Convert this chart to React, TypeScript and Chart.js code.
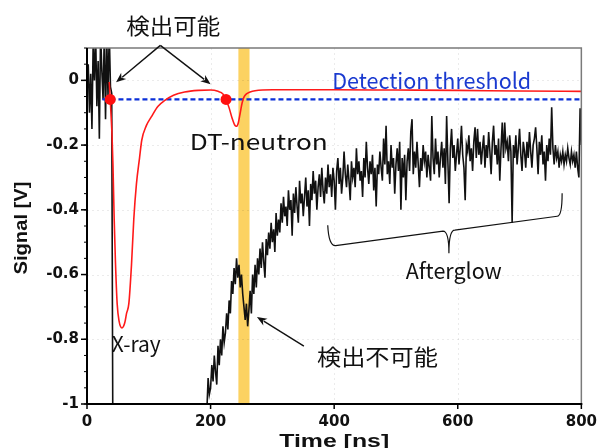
import { useEffect, useRef } from "react";
import { Chart, registerables } from "chart.js";

Chart.register(...registerables);

// Axes
const timeTicks = [0, 200, 400, 600, 800];
const signalTicks = [0, -0.2, -0.4, -0.6, -0.8, -1];
const signalMinorStep = 0.05;
const timeRange = [0, 800];
const signalRange = [-1, 0.1];

// Measured detector output (V), sampled every 2 ns
const sampleStep = 2;
const earlyStart = 0;
const earlySignal = [
  -0.02, 0.05, -0.1, 0.02, -0.15, 0.12, 0.0, 0.14, -0.08, 0.06, -0.18,
  0.15, 0.03, -0.06, 0.14, -0.12, 0.13, -0.05, 0.15, -0.02, -0.04, -1.2,
];
const lateStart = 192;
const lateSignal = [
  -1.15, -1.02, -0.92, -0.97, -0.95, -0.88, -0.93, -0.85, -0.9, -0.94, -0.82, -0.88, -0.8, -0.85, -0.76, -0.81, -0.78, -0.72, -0.77, -0.68,
  -0.72, -0.62, -0.66, -0.58, -0.63, -0.55, -0.61, -0.57, -0.64, -0.6, -0.66, -0.7, -0.74, -0.69, -0.76, -0.71, -0.65, -0.72, -0.6, -0.66,
  -0.57, -0.64, -0.55, -0.6, -0.52, -0.58, -0.5, -0.56, -0.61, -0.49, -0.54, -0.47, -0.52, -0.44, -0.5, -0.46, -0.53, -0.41, -0.48, -0.43,
  -0.47, -0.38, -0.44, -0.36, -0.42, -0.39, -0.45, -0.34, -0.4, -0.37, -0.48, -0.35, -0.41, -0.33, -0.39, -0.44, -0.31, -0.38, -0.35, -0.42,
  -0.36, -0.3, -0.39, -0.34, -0.45, -0.32, -0.37, -0.28, -0.35, -0.31, -0.4, -0.33, -0.29, -0.36, -0.27, -0.34, -0.38, -0.3, -0.35, -0.26,
  -0.33, -0.29, -0.36, -0.27, -0.31, -0.4, -0.28, -0.24, -0.32, -0.27, -0.35, -0.3, -0.22, -0.29, -0.33, -0.26, -0.31, -0.37, -0.25, -0.3,
  -0.27, -0.33, -0.21, -0.29, -0.25, -0.31, -0.28, -0.36, -0.24, -0.3, -0.19, -0.27, -0.32, -0.25, -0.29, -0.23, -0.34, -0.27, -0.39, -0.26,
  -0.29, -0.22, -0.27, -0.31, -0.18, -0.26, -0.14, -0.29, -0.25, -0.32, -0.2, -0.27, -0.24, -0.35, -0.26, -0.21, -0.28, -0.19, -0.4, -0.24,
  -0.3, -0.23, -0.37, -0.25, -0.21, -0.28, -0.16, -0.12, -0.29, -0.22, -0.27, -0.19, -0.26, -0.33, -0.24, -0.28, -0.2, -0.25, -0.22, -0.3,
  -0.23, -0.27, -0.31, -0.11, -0.24, -0.29, -0.18, -0.26, -0.22, -0.3, -0.24, -0.19, -0.27, -0.21, -0.32, -0.11, -0.25, -0.38, -0.21, -0.15,
  -0.24, -0.2, -0.28, -0.23, -0.18, -0.26, -0.21, -0.14, -0.23, -0.27, -0.37, -0.2, -0.22, -0.17, -0.25, -0.21, -0.28, -0.19, -0.145, -0.24,
  -0.15, -0.23, -0.19, -0.26, -0.21, -0.17, -0.27, -0.2, -0.24, -0.16, -0.22, -0.29, -0.19, -0.14, -0.23, -0.2, -0.26, -0.18, -0.31, -0.21,
  -0.13, -0.24, -0.13, -0.21, -0.19, -0.25, -0.17, -0.22, -0.44, -0.2, -0.24, -0.17, -0.26, -0.21, -0.15, -0.23, -0.28, -0.19, -0.22, -0.27,
  -0.19, -0.24, -0.16, -0.22, -0.27, -0.2, -0.18, -0.145, -0.21, -0.29, -0.19, -0.23, -0.17, -0.26, -0.22, -0.31, -0.2, -0.25, -0.18, -0.23,
  -0.083, -0.21, -0.26, -0.2, -0.24, -0.22, -0.27, -0.23, -0.25, -0.22, -0.26, -0.23, -0.25, -0.21, -0.24, -0.26, -0.22, -0.25, -0.23, -0.27,
  -0.22, -0.27, -0.3, -0.086, -0.2,
];

// Expected detector response (X-ray peak and DT-neutron peak)
const responseTime = [
  36, 37.6, 39, 40.5, 42, 44, 46, 48.8, 52, 56.6, 61, 64, 67.7, 72, 75.7, 80, 85, 88.6, 96, 104,
  115, 126, 140, 158, 180, 200, 212, 220, 225, 230, 235, 239, 242, 245, 248, 251, 254, 258, 264,
  272, 300, 400, 500, 600, 700, 800,
];
const responseSignal = [
  -0.005, -0.059, -0.11, -0.17, -0.26, -0.43, -0.56, -0.69, -0.745, -0.765, -0.75, -0.72, -0.69,
  -0.57, -0.43, -0.32, -0.24, -0.185, -0.14, -0.113, -0.08, -0.062, -0.046, -0.036, -0.031, -0.03,
  -0.034, -0.042, -0.059, -0.085, -0.118, -0.138, -0.142, -0.13, -0.1, -0.07, -0.052, -0.042,
  -0.036, -0.032, -0.029, -0.029, -0.03, -0.031, -0.033, -0.034,
];

const thresholdLevel = -0.059;
const thresholdSpan = [25, 800];
const crossingTimes = [37.6, 225];
const neutronWindow = [245, 263];

// Curly brace under the afterglow region, in (ns, V)
const braceLeft = [[389.6, -0.4475], [391.2, -0.5123], [402.4, -0.5108], [576.1, -0.466], [585.7, -0.466], [585.7, -0.534]];
const braceRight = [[585.7, -0.534], [585.7, -0.463], [595.2, -0.463], [760.9, -0.4198], [768.9, -0.4198], [768.9, -0.3488]];

const signalPoints: { x: number; y: number | null }[] = [
  ...earlySignal.map((v, i) => ({ x: earlyStart + i * sampleStep, y: v })),
  { x: 100, y: null },
  ...lateSignal.map((v, i) => ({ x: lateStart + i * sampleStep, y: v })),
];
const responsePoints = responseTime.map((t, i) => ({ x: t, y: responseSignal[i] }));
const thresholdPoints = thresholdSpan.map((t) => ({ x: t, y: thresholdLevel }));
const crossingPoints = crossingTimes.map((t) => ({ x: t, y: thresholdLevel }));

function fitText(
  ctx: CanvasRenderingContext2D,
  text: string,
  x: number,
  y: number,
  font: string,
  color: string,
  width: number,
  baseline: CanvasTextBaseline = "alphabetic",
  angle = 0
) {
  ctx.save();
  ctx.font = font;
  ctx.fillStyle = color;
  ctx.textAlign = "center";
  ctx.textBaseline = baseline;
  const w = ctx.measureText(text).width;
  ctx.translate(x, y);
  if (angle) ctx.rotate(angle);
  ctx.scale(width / w, 1);
  ctx.fillText(text, 0, 0);
  ctx.restore();
}

function arrow(ctx: CanvasRenderingContext2D, x0: number, y0: number, x1: number, y1: number) {
  const a = Math.atan2(y1 - y0, x1 - x0);
  const len = 10;
  const hw = 4;
  ctx.save();
  ctx.strokeStyle = "#111";
  ctx.fillStyle = "#111";
  ctx.lineWidth = 1.4;
  ctx.beginPath();
  ctx.moveTo(x0, y0);
  ctx.lineTo(x1 - Math.cos(a) * len * 0.8, y1 - Math.sin(a) * len * 0.8);
  ctx.stroke();
  ctx.beginPath();
  ctx.moveTo(x1, y1);
  ctx.lineTo(x1 - Math.cos(a) * len + Math.sin(a) * hw, y1 - Math.sin(a) * len - Math.cos(a) * hw);
  ctx.lineTo(x1 - Math.cos(a) * len * 0.7, y1 - Math.sin(a) * len * 0.7);
  ctx.lineTo(x1 - Math.cos(a) * len - Math.sin(a) * hw, y1 - Math.sin(a) * len + Math.cos(a) * hw);
  ctx.closePath();
  ctx.fill();
  ctx.restore();
}

const framePlugin = {
  id: "frame",
  beforeDatasetsDraw(chart: Chart) {
    const { ctx, chartArea: a } = chart;
    const xs = chart.scales.x;
    const ys = chart.scales.y;
    ctx.save();
    // neutron arrival window
    ctx.fillStyle = "rgb(252, 210, 98)";
    const b0 = xs.getPixelForValue(neutronWindow[0]);
    const b1 = xs.getPixelForValue(neutronWindow[1]);
    ctx.fillRect(b0, a.top, b1 - b0, a.bottom - a.top);
    // faint dotted grid
    ctx.strokeStyle = "rgba(0,0,0,0.08)";
    ctx.lineWidth = 1;
    ctx.setLineDash([2, 3]);
    timeTicks.forEach((t) => {
      if (t === timeRange[0] || t === timeRange[1]) return;
      const x = Math.round(xs.getPixelForValue(t)) + 0.5;
      ctx.beginPath();
      ctx.moveTo(x, a.top);
      ctx.lineTo(x, a.bottom);
      ctx.stroke();
    });
    signalTicks.forEach((v) => {
      if (v === signalRange[0]) return;
      const y = Math.round(ys.getPixelForValue(v)) + 0.5;
      ctx.beginPath();
      ctx.moveTo(a.left, y);
      ctx.lineTo(a.right, y);
      ctx.stroke();
    });
    ctx.restore();
  },
  afterDatasetsDraw(chart: Chart) {
    const { ctx, chartArea: a } = chart;
    const xs = chart.scales.x;
    const ys = chart.scales.y;
    const px = (t: number) => xs.getPixelForValue(t);
    const py = (v: number) => ys.getPixelForValue(v);
    ctx.save();
    // top and right frame
    ctx.strokeStyle = "#7a7a7a";
    ctx.lineWidth = 1.5;
    ctx.beginPath();
    ctx.moveTo(a.left, a.top);
    ctx.lineTo(a.right, a.top);
    ctx.lineTo(a.right, a.bottom);
    ctx.stroke();
    // axes
    ctx.strokeStyle = "#000";
    ctx.lineWidth = 2;
    ctx.beginPath();
    ctx.moveTo(a.left, a.top);
    ctx.lineTo(a.left, a.bottom);
    ctx.lineTo(a.right + 1, a.bottom);
    ctx.stroke();
    // ticks
    ctx.lineWidth = 1.5;
    signalTicks.forEach((v) => {
      const y = py(v);
      ctx.beginPath();
      ctx.moveTo(a.left - 6, y);
      ctx.lineTo(a.left, y);
      ctx.stroke();
    });
    ctx.lineWidth = 1;
    for (let k = 0; signalRange[1] - k * signalMinorStep >= signalRange[0] - 1e-9; k++) {
      const v = signalRange[1] - k * signalMinorStep;
      const y = py(v);
      ctx.beginPath();
      ctx.moveTo(a.left - 3, y);
      ctx.lineTo(a.left, y);
      ctx.stroke();
    }
    ctx.lineWidth = 1.5;
    timeTicks.forEach((t) => {
      const x = px(t);
      ctx.beginPath();
      ctx.moveTo(x, a.bottom);
      ctx.lineTo(x, a.bottom + 5);
      ctx.stroke();
    });
    ctx.restore();

    // annotations
    const latin = '22px "Noto Sans CJK JP", sans-serif';
    const cjk = '22px "Noto Sans CJK JP", sans-serif';
    fitText(ctx, "検出可能", px(139.4), py(0.17), cjk, "#111", 94, "middle");
    arrow(ctx, px(118.7), py(0.108), px(47), py(-0.006));
    arrow(ctx, px(118.7), py(0.108), px(200), py(-0.012));
    fitText(ctx, "Detection threshold", px(557.8), py(-0.028), latin, "#1a3ad0", 199);
    fitText(ctx, "DT-neutron", px(278), py(-0.216), latin, "#111", 138);
    fitText(ctx, "X-ray", px(79.7), py(-0.84), '21px "Noto Sans CJK JP", sans-serif', "#111", 49);
    fitText(ctx, "Afterglow", px(593.6), py(-0.614), latin, "#111", 96);
    fitText(ctx, "検出不可能", px(470), py(-0.853), cjk, "#111", 121, "middle");
    arrow(ctx, px(351), py(-0.821), px(275), py(-0.731));

    // brace
    ctx.save();
    ctx.strokeStyle = "#111";
    ctx.lineWidth = 1.2;
    ctx.beginPath();
    [braceLeft, braceRight].forEach((b) => {
      ctx.moveTo(px(b[0][0]), py(b[0][1]));
      ctx.quadraticCurveTo(px(b[1][0]), py(b[1][1]), px(b[2][0]), py(b[2][1]));
      ctx.lineTo(px(b[3][0]), py(b[3][1]));
      ctx.quadraticCurveTo(px(b[4][0]), py(b[4][1]), px(b[5][0]), py(b[5][1]));
    });
    ctx.stroke();
    ctx.restore();

    // axis titles
    fitText(ctx, "Signal [V]", a.left - 65, (a.top + a.bottom) / 2 + 2, 'bold 19px "Liberation Sans", sans-serif', "#111", 93, "middle", -Math.PI / 2);
    fitText(ctx, "Time [ns]", (a.left + a.right) / 2, a.bottom + 43, 'bold 18px "Liberation Sans", sans-serif', "#111", 110);
  },
};

export default function App() {
  const ref = useRef<HTMLCanvasElement>(null);
  useEffect(() => {
    const tickFont = { family: '"DejaVu Sans", sans-serif', size: 15, weight: "bold" as const };
    const chart = new Chart(ref.current!, {
      type: "line",
      data: {
        datasets: [
          {
            data: crossingPoints,
            type: "scatter",
            pointRadius: 5.5,
            pointBackgroundColor: "#ff1010",
            pointBorderWidth: 0,
            showLine: false,
            order: 1,
          },
          {
            data: responsePoints,
            borderColor: "#ff1a1a",
            borderWidth: 1.6,
            pointRadius: 0,
            cubicInterpolationMode: "monotone",
            order: 2,
          },
          {
            data: thresholdPoints,
            borderColor: "#0a2fd8",
            borderWidth: 2.2,
            borderDash: [5, 3],
            pointRadius: 0,
            order: 3,
          },
          {
            data: signalPoints,
            borderColor: "#111",
            borderWidth: 1.6,
            pointRadius: 0,
            spanGaps: false,
            order: 4,
          },
        ],
      },
      options: {
        responsive: false,
        animation: false,
        events: [],
        layout: { padding: { left: 0, top: 48, right: 16, bottom: 0 } },
        plugins: { legend: { display: false }, tooltip: { enabled: false } },
        scales: {
          x: {
            type: "linear",
            min: timeRange[0],
            max: timeRange[1],
            grid: { display: false, drawTicks: false },
            border: { display: false },
            afterBuildTicks: (s: any) => {
              s.ticks = timeTicks.map((value) => ({ value }));
            },
            afterFit: (s: any) => {
              s.height = 44;
            },
            ticks: {
              font: tickFont,
              color: "#111",
              padding: 9,
              maxRotation: 0,
              autoSkip: false,
              callback: (v: any) => String(v),
            },
          },
          y: {
            type: "linear",
            min: signalRange[0],
            max: signalRange[1],
            grid: { display: false, drawTicks: false },
            border: { display: false },
            afterBuildTicks: (s: any) => {
              s.ticks = signalTicks.map((value) => ({ value }));
            },
            afterFit: (s: any) => {
              s.width = 87;
            },
            ticks: {
              font: tickFont,
              color: "#111",
              padding: 8,
              autoSkip: false,
              callback: (v: any) => String(v),
            },
          },
        },
      },
      plugins: [framePlugin],
    });
    return () => chart.destroy();
  }, []);
  return (
    <div style={{ position: "absolute", left: 0, top: 0, width: 606, height: 448, background: "#fff" }}>
      <canvas ref={ref} width={606} height={448} style={{ display: "block" }} />
    </div>
  );
}
